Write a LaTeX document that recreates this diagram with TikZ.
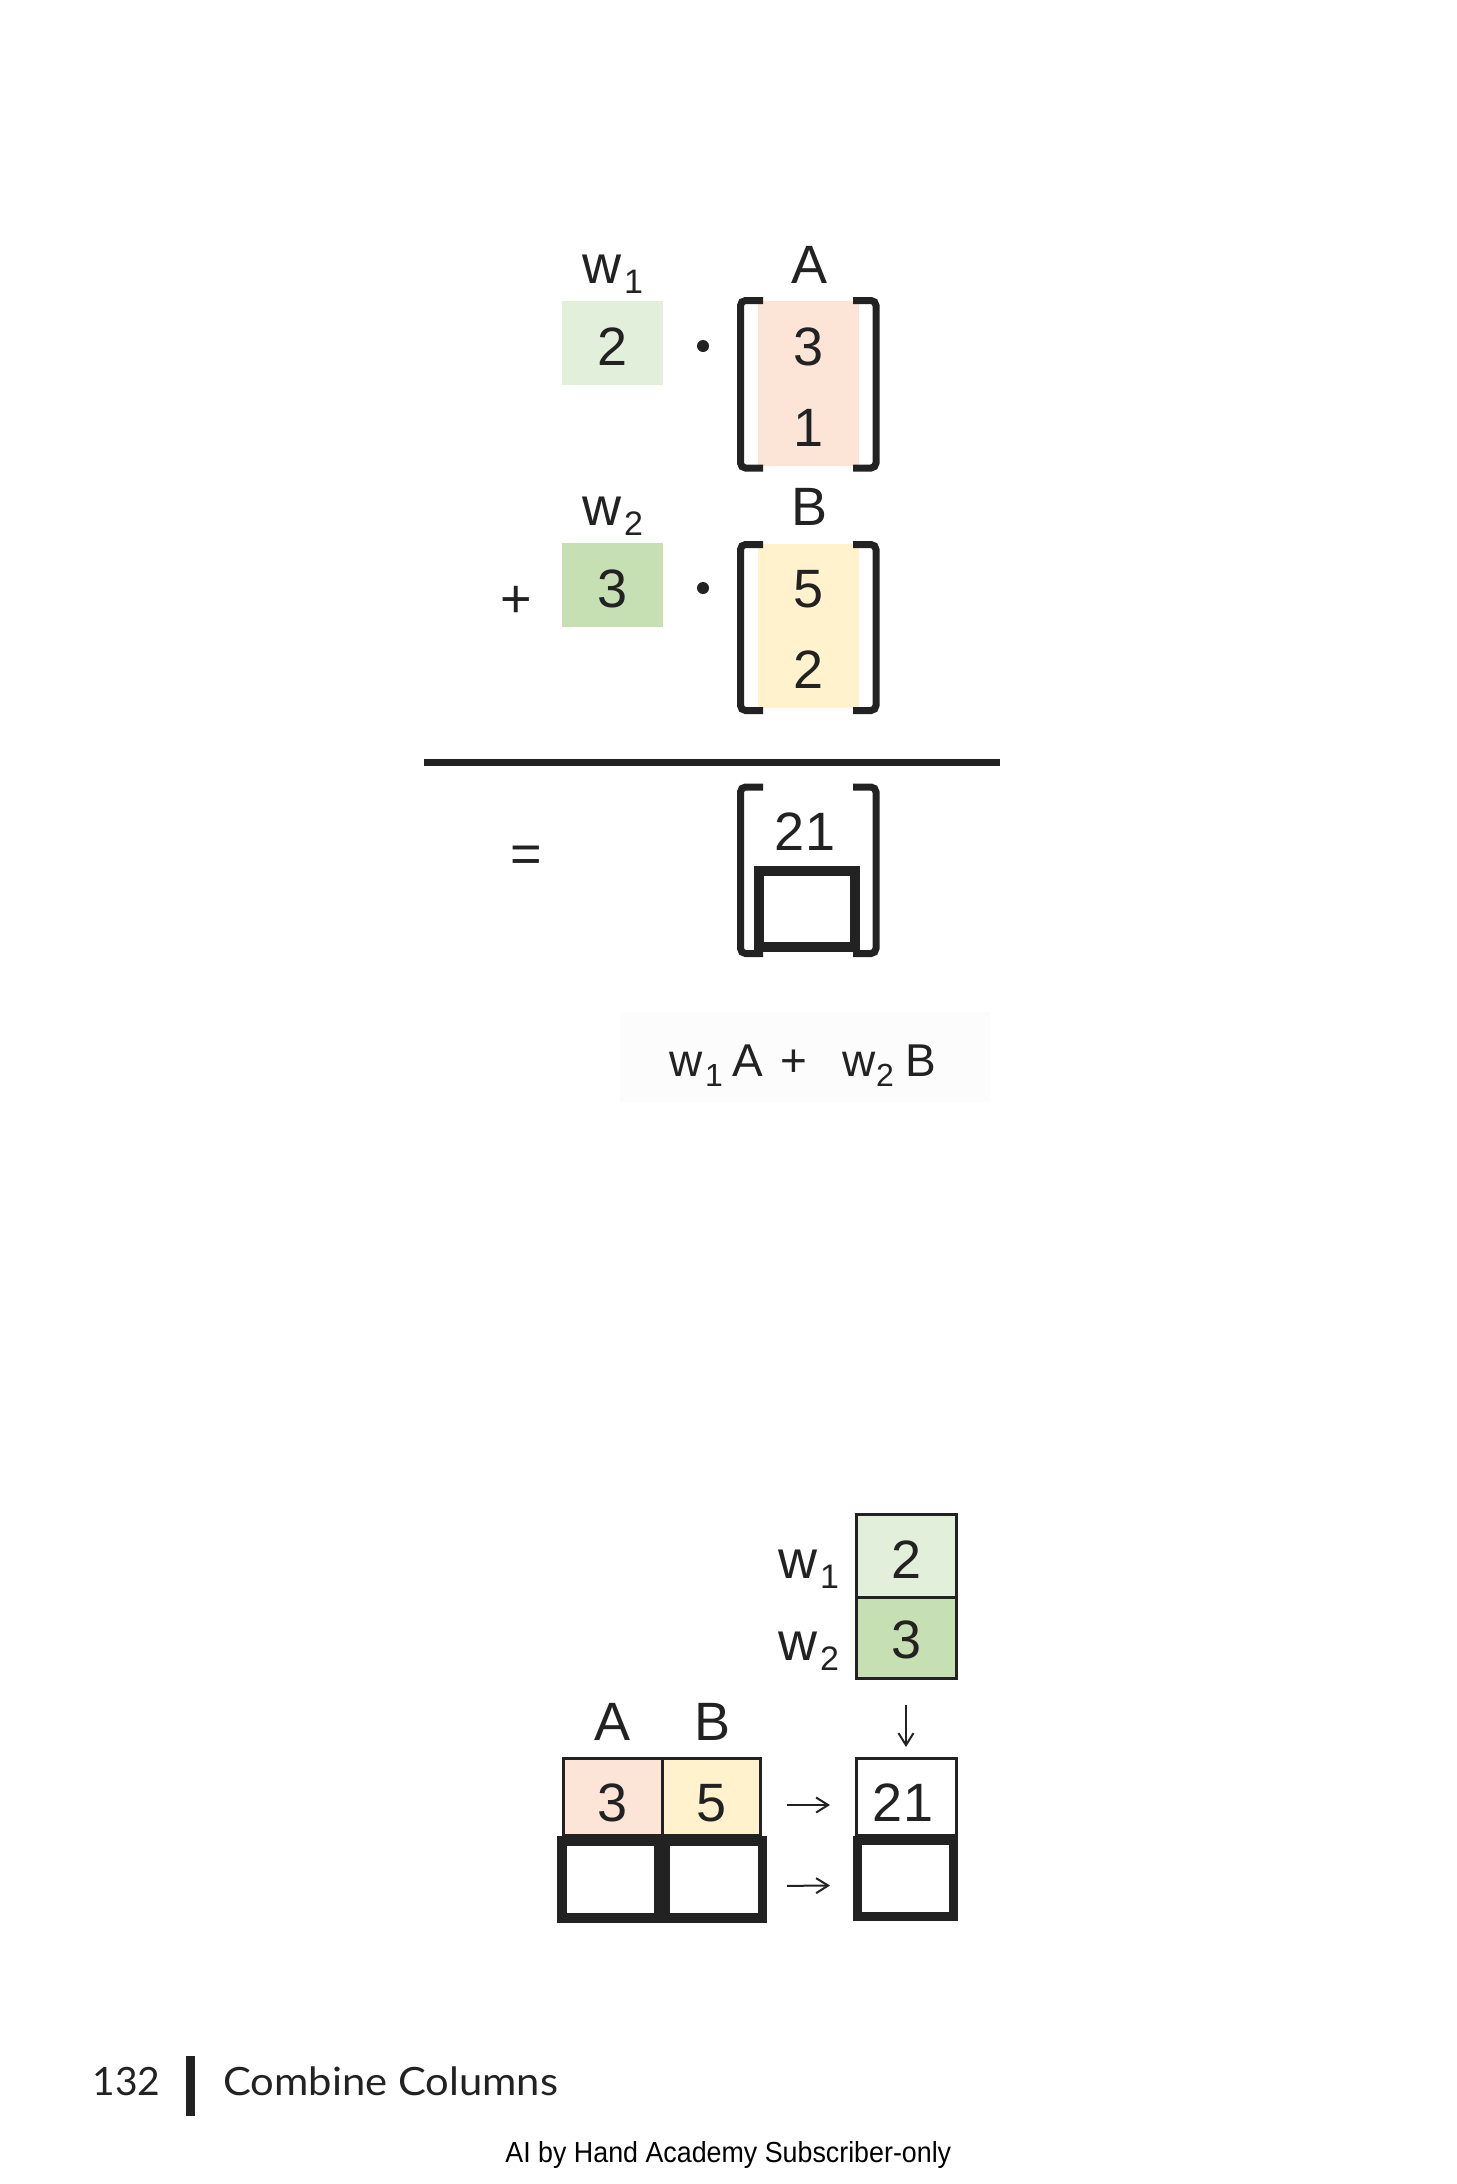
\documentclass[tikz,border=0pt]{standalone}
\usepackage{fontspec}
\setmainfont{Liberation Sans}
\newfontfamily\footfont{Lato}
\usetikzlibrary{arrows.meta}
\definecolor{gA}{HTML}{E2EFDA}
\definecolor{gB}{HTML}{C6E0B4}
\definecolor{pk}{HTML}{FCE4D6}
\definecolor{yl}{HTML}{FFF2CC}
\definecolor{ink}{HTML}{222222}
\definecolor{fbg}{HTML}{FCFCFC}
\newcommand{\wlab}[1]{w\kern1.5pt\raisebox{-5pt}{\fontsize{17pt}{19pt}\selectfont #1}}
\tikzset{
  big/.style={font=\fontsize{27pt}{30pt}\selectfont, inner sep=0pt, outer sep=0pt, text=ink},
  lab/.style={big, anchor=base},
  labw/.style={big, anchor=base west},
  fml/.style={font=\fontsize{23pt}{26pt}\selectfont, inner sep=0pt, outer sep=0pt, text=ink, anchor=base west},
  fsub/.style={font=\fontsize{16pt}{18pt}\selectfont, inner sep=0pt, outer sep=0pt, text=ink, anchor=base west},
  rect/.style={draw=none, inner sep=0pt, outer sep=0pt},
  cell/.style={draw=ink, line width=1.5pt, inner sep=0pt, outer sep=0pt},
  thick box/.style={draw=ink, line width=4.75pt, inner sep=0pt, outer sep=0pt, fill=white},
  brk/.style={draw=ink, line width=3.5pt, rounded corners=2.5pt},
  arr/.style={draw=ink, line width=1pt, -{Straight Barb[length=6pt,width=7.5pt]}},
  dotn/.style={circle, fill=ink, minimum size=6pt, inner sep=0pt},
}
\begin{document}
\begin{tikzpicture}[x=0.5pt,y=-0.5pt]
\fill[white] (0,0) rectangle (1456,2184);
\useasboundingbox (0,0) rectangle (1456,2184);

% ---------- top: w1 * A ----------
\node[rect, fill=gA, minimum width=50.5pt, minimum height=42pt] (w1box) at (612.5,343) {};
\node[lab] (w1v) at (613,365) {2};
\node[labw] (w1l) at (582,283) {\wlab{1}};
\node[dotn] (dot1) at (703,346) {};
\node[rect, fill=pk, minimum width=50.5pt, minimum height=82.5pt] (Acol) at (808.5,383.5) {};
\node[lab] (Al) at (809,283) {A};
\node[lab] (A1) at (809,365) {3};
\node[lab] (A2) at (809,446) {1};
\draw[brk] (763,300.5) -- (740.5,300.5) -- (740.5,468) -- (763,468);
\draw[brk] (853,300.5) -- (876,300.5) -- (876,468) -- (853,468);

% ---------- + w2 * B ----------
\node[lab] (plus) at (516,617) {+};
\node[rect, fill=gB, minimum width=50.5pt, minimum height=42pt] (w2box) at (612.5,585) {};
\node[lab] (w2v) at (613,607) {3};
\node[labw] (w2l) at (582,525) {\wlab{2}};
\node[dotn] (dot2) at (703,588) {};
\node[rect, fill=yl, minimum width=50.5pt, minimum height=82pt] (Bcol) at (808.5,626) {};
\node[lab] (Bl) at (809,525) {B};
\node[lab] (B1) at (809,607) {5};
\node[lab] (B2) at (809,688) {2};
\draw[brk] (763,544.5) -- (740.5,544.5) -- (740.5,710.5) -- (763,710.5);
\draw[brk] (853,544.5) -- (876,544.5) -- (876,710.5) -- (853,710.5);

% ---------- rule ----------
\draw[ink, line width=3.5pt] (424,762.5) -- (1000,762.5);

% ---------- result ----------
\node[lab] (eq) at (526,872) {=};
\node[lab] (r1) at (805,850) {21};
\node[draw=ink, line width=5pt, inner sep=0pt, outer sep=0pt, minimum width=48pt, minimum height=38pt] (r2) at (807,909) {};
\draw[brk] (763,787) -- (740.5,787) -- (740.5,953.5) -- (763,953.5);
\draw[brk] (853,787) -- (876,787) -- (876,953.5) -- (853,953.5);

% ---------- formula ----------
\node[rect, fill=fbg, minimum width=185pt, minimum height=45pt] (fbox) at (805,1057) {};
\node[fml] (f1) at (669,1076) {w};
\node[fsub] (f2) at (705,1086) {1};
\node[fml] (f3) at (732,1076) {A};
\node[fml, anchor=base] (f4) at (793.5,1076) {+};
\node[fml] (f5) at (842,1076) {w};
\node[fsub] (f6) at (876,1086) {2};
\node[fml] (f7) at (905,1076) {B};

% ---------- bottom diagram ----------
\node[cell, fill=gA, minimum width=50pt, minimum height=41.5pt] (wc1) at (906,1555.5) {};
\node[cell, fill=gB, minimum width=50pt, minimum height=40.5pt] (wc2) at (906,1637.5) {};
\node[lab] (wc1t) at (907,1578) {2};
\node[lab] (wc2t) at (907,1658) {3};
\node[labw] (bw1) at (778,1578) {\wlab{1}};
\node[labw] (bw2) at (778,1660) {\wlab{2}};

\node[cell, fill=pk, minimum width=49.5pt, minimum height=38.5pt] (Ac) at (612.5,1796.5) {};
\node[cell, fill=yl, minimum width=49pt, minimum height=38.5pt] (Bc) at (711,1796.5) {};
\node[cell, fill=white, minimum width=50pt, minimum height=38.5pt] (rc) at (906,1796.5) {};
\node[lab] (Act) at (613,1821) {3};
\node[lab] (Bct) at (712,1821) {5};
\node[lab] (rct) at (903,1821) {21};
\node[lab] (bAl) at (613,1740) {A};
\node[lab] (bBl) at (712,1740) {B};

\node[thick box, minimum width=48.5pt, minimum height=38.5pt] (tb1) at (610.25,1879.25) {};
\node[thick box, minimum width=48.5pt, minimum height=38.5pt] (tb2) at (713.75,1879.25) {};
\node[thick box, line width=4.5pt, minimum width=48pt, minimum height=38pt] (rb) at (905.5,1878.5) {};

\draw[arr, shorten <=13.5pt, shorten >=13pt] ([yshift=-4.25pt]Bc.east) -- ([yshift=-4.25pt]rc.west);
\draw[arr, shorten <=12.4pt, shorten >=13.75pt] ([yshift=-3.4pt]tb2.east) -- ([yshift=-3.4pt]rb.west);
\draw[arr, shorten <=13.5pt, shorten >=5.5pt] (wc2.south) -- (rc.north);

% ---------- footer ----------
\node[anchor=base west, inner sep=0pt, text=ink, font=\footfont\fontsize{19.5pt}{22pt}\selectfont] (pg) at (92,2095) {132};
\node[rect, fill=ink, minimum width=4.5pt, minimum height=30pt] (bar) at (190.5,2086) {};
\node[anchor=base west, inner sep=0pt, text=ink, font=\footfont\fontsize{19.5pt}{22pt}\selectfont] (ttl) at (223,2095) {\scalebox{1.07}[1]{Combine Columns}};
\node[anchor=base west, inner sep=0pt, text=black, font=\fontsize{14.5pt}{17pt}\selectfont] (foot) at (505,2162) {\scalebox{0.925}[1]{AI by Hand Academy Subscriber-only}};
\end{tikzpicture}
\end{document}
